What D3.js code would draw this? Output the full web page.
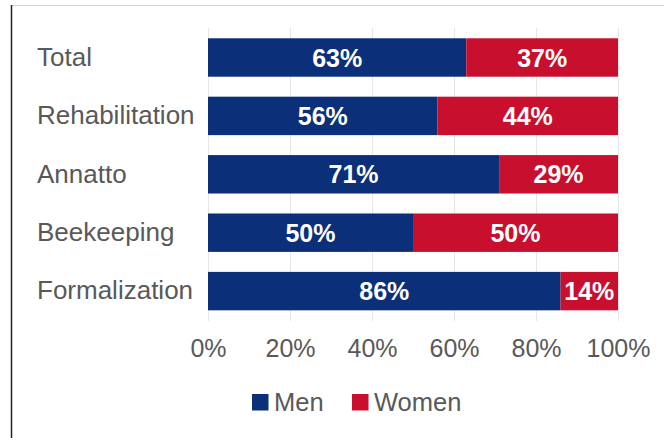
<!DOCTYPE html>
<html>
<head>
<meta charset="utf-8">
<script src="https://cdn.jsdelivr.net/npm/d3@7"></script>
<style>
  html, body { margin: 0; padding: 0; background: #fff; }
  svg { display: block; font-family: "Liberation Sans", Arial, sans-serif; }
</style>
</head>
<body>
<svg id="chart" width="664" height="438"></svg>
<script>
// Share of participants by sex, per programme
const categories = ["Total", "Rehabilitation", "Annatto", "Beekeeping", "Formalization"];
const men   = [63, 56, 71, 50, 86];
const women = [37, 44, 29, 50, 14];
const seriesNames = ["Men", "Women"];
const seriesColors = ["#0b2f78", "#c8102e"];
const tickValues = [0, 20, 40, 60, 80, 100];

const svg = d3.select("#chart");
const W = 664, H = 438;

// frame lines
svg.append("line").attr("x1", 11).attr("x2", W).attr("y1", 5.5).attr("y2", 5.5)
  .attr("stroke", "#d0d0d0").attr("stroke-width", 1);
svg.append("line").attr("x1", 11.5).attr("x2", 11.5).attr("y1", 5).attr("y2", H)
  .attr("stroke", "#222").attr("stroke-width", 1.5);

const x = d3.scaleLinear().domain([0, 100]).range([208, 618]);
const y = d3.scaleBand().domain(categories).range([28.3, 320.3])
  .paddingInner(0.342).paddingOuter(0.171);

// vertical gridlines
svg.append("g").selectAll("line").data(tickValues).join("line")
  .attr("x1", d => x(d) + 0.5).attr("x2", d => x(d) + 0.5)
  .attr("y1", 28).attr("y2", 321)
  .attr("stroke", "#e6e6e6").attr("stroke-width", 1);

// stacked data
const rows = categories.map((c, i) => ({ cat: c, Men: men[i], Women: women[i] }));
const stack = d3.stack().keys(seriesNames)(rows);

const layers = svg.append("g").selectAll("g").data(stack).join("g")
  .attr("fill", (d, i) => seriesColors[i]);

layers.selectAll("rect").data(d => d).join("rect")
  .attr("x", d => x(d[0]))
  .attr("y", d => y(d.data.cat))
  .attr("width", d => x(d[1]) - x(d[0]))
  .attr("height", y.bandwidth());

// value labels
const labels = svg.append("g");
stack.forEach(layer => {
  labels.selectAll(null).data(layer).join("text")
    .attr("x", d => (x(d[0]) + x(d[1])) / 2)
    .attr("y", d => y(d.data.cat) + y.bandwidth() / 2)
    .attr("dy", "0.36em")
    .attr("text-anchor", "middle")
    .attr("fill", "#fff")
    .attr("font-weight", "bold")
    .attr("font-size", 25)
    .text(d => (d[1] - d[0]) + "%");
});

// category labels
svg.append("g").selectAll("text").data(categories).join("text")
  .attr("x", 37)
  .attr("y", d => y(d) + y.bandwidth() / 2)
  .attr("dy", "0.32em")
  .attr("fill", "#595959")
  .attr("font-size", 26)
  .text(d => d);

// x axis
const xAxis = d3.axisBottom(x).tickValues(tickValues).tickSize(0).tickPadding(0)
  .tickFormat(d => d + "%");
const gx = svg.append("g").attr("transform", "translate(0,339)").call(xAxis);
gx.select(".domain").remove();
gx.selectAll("text").attr("font-size", 25).attr("fill", "#595959")
  .attr("font-family", "Liberation Sans, Arial, sans-serif").attr("dy", "0.71em");

// legend
const legendX = [252, 352];
const legend = svg.append("g").selectAll("g").data(seriesNames).join("g")
  .attr("transform", (d, i) => `translate(${legendX[i]},394)`);
legend.append("rect").attr("width", 16.5).attr("height", 16.5)
  .attr("fill", (d, i) => seriesColors[i]);
legend.append("text").attr("x", 22).attr("y", 16.7)
  .attr("font-size", 25.5).attr("fill", "#595959").text(d => d);
</script>
</body>
</html>
